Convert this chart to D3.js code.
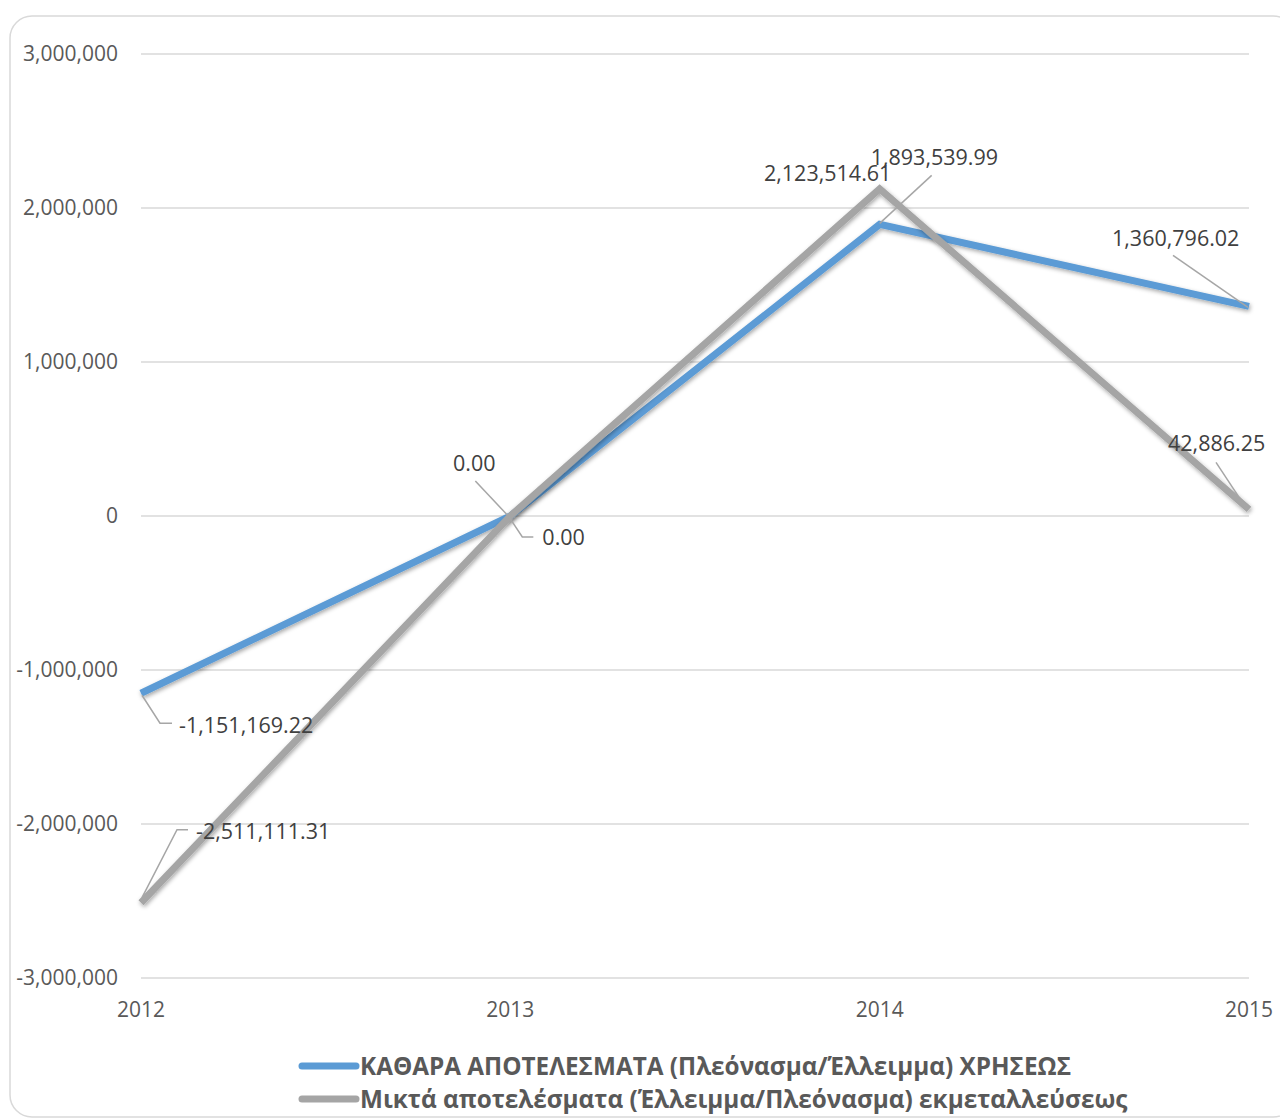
<!DOCTYPE html>
<html>
<head>
<meta charset="utf-8">
<script src="https://cdn.jsdelivr.net/npm/d3@7"></script>
<style>
  body { margin: 0; background: #fff; }
  text { font-family: "Open Sans", "Noto Sans", sans-serif; }
</style>
</head>
<body>
<svg id="chart" width="1280" height="1120"></svg>
<script>
// data
let years = ['2012', '2013', '2014', '2015']
let netResults = [-1151169.22, 0, 1893539.99, 1360796.02]
let grossResults = [-2511111.31, 0, 2123514.61, 42886.25]
let yTicks = [-3000000, -2000000, -1000000, 0, 1000000, 2000000, 3000000]
let seriesNames = [
  'ΚΑΘΑΡΑ ΑΠΟΤΕΛΕΣΜΑΤΑ (Πλεόνασμα/Έλλειμμα) ΧΡΗΣΕΩΣ',
  'Μικτά αποτελέσματα (Έλλειμμα/Πλεόνασμα) εκμεταλλεύσεως'
]
let seriesColors = ['#5b9bd5', '#a5a5a5']

// where each data label sits relative to its point (text offset + leader line)
let labelLayout = [
  [
    { dx: 38, dy: 32, anchor: 'start', leader: [[1, 2], [19, 30], [31, 30]] },
    { dx: 32, dy: 21, anchor: 'start', leader: [[-2, 0], [12, 21], [23, 21]] },
    { dx: -9, dy: -67, anchor: 'start', leader: [[0, -1], [52, -49]] },
    { dx: -137, dy: -68, anchor: 'start', leader: [[-1, 1], [-76, -51]] }
  ],
  [
    { dx: 55, dy: -71, anchor: 'start', leader: [[1, -5], [36, -73], [47, -73]] },
    { dx: -36, dy: -53, anchor: 'middle', leader: [[-3, -1], [-35, -35]] },
    { dx: -52, dy: -16, anchor: 'middle', leader: null },
    { dx: -81, dy: -66, anchor: 'start', leader: [[-2, 0], [-33, -47]] }
  ]
]

let locale = d3.formatLocale({ decimal: '.', thousands: ',', grouping: [3], currency: ['', ''], minus: '-' })
let fmtAxis = locale.format(',')
let fmtLabel = locale.format(',.2f')

let svg = d3.select('#chart')

let defs = svg.append('defs')
let shadow = defs.append('filter').attr('id', 'shadow')
  .attr('x', '-10%').attr('y', '-10%').attr('width', '120%').attr('height', '120%')
shadow.append('feDropShadow')
  .attr('dx', 1).attr('dy', 2).attr('stdDeviation', 2)
  .attr('flood-color', '#000').attr('flood-opacity', 0.35)

// outer frame
svg.append('rect')
  .attr('x', 10).attr('y', 16)
  .attr('width', 1285).attr('height', 1101)
  .attr('rx', 22).attr('ry', 22)
  .attr('fill', '#fff')
  .attr('stroke', '#d9d9d9').attr('stroke-width', 1.5)

let x = d3.scalePoint().domain(years).range([141, 1249])
let y = d3.scaleLinear().domain([-3000000, 3000000]).range([978, 54])

// gridlines
svg.append('g').selectAll('line')
  .data(yTicks)
  .enter()
  .append('line')
  .attr('x1', 141).attr('x2', 1249)
  .attr('y1', d => y(d)).attr('y2', d => y(d))
  .attr('stroke', '#d9d9d9').attr('stroke-width', 1.5)

// y labels
svg.append('g').selectAll('text')
  .data(yTicks)
  .enter()
  .append('text')
  .attr('x', 118)
  .attr('y', d => y(d))
  .attr('dy', '0.35em')
  .attr('text-anchor', 'end')
  .attr('font-size', 21)
  .attr('fill', '#595959')
  .text(d => fmtAxis(d))

// x labels
svg.append('g').selectAll('text')
  .data(years)
  .enter()
  .append('text')
  .attr('x', d => x(d))
  .attr('y', 1010)
  .attr('dy', '0.35em')
  .attr('text-anchor', 'middle')
  .attr('font-size', 21)
  .attr('fill', '#595959')
  .text(d => d)

let series = [netResults, grossResults].map((vals, si) => ({
  name: seriesNames[si],
  color: seriesColors[si],
  points: vals.map((v, i) => ({ year: years[i], value: v, layout: labelLayout[si][i] }))
}))

let line = d3.line().x(d => x(d.year)).y(d => y(d.value))

svg.append('g').attr('class', 'lines').selectAll('path')
  .data(series)
  .enter()
  .append('path')
  .attr('d', d => line(d.points))
  .attr('fill', 'none')
  .attr('stroke', d => d.color)
  .attr('stroke-width', 7)
  .attr('stroke-linejoin', 'miter')
  .attr('filter', 'url(#shadow)')

// leader lines + data labels
let labelGroups = svg.append('g').attr('class', 'labels').selectAll('g')
  .data(series)
  .enter()
  .append('g')

let allPts = labelGroups.selectAll('g')
  .data(d => d.points)
  .enter()
  .append('g')
  .attr('transform', d => `translate(${x(d.year)}, ${y(d.value)})`)

allPts.filter(d => d.layout.leader)
  .append('polyline')
  .attr('points', d => d.layout.leader.map(p => p.join(',')).join(' '))
  .attr('fill', 'none')
  .attr('stroke', '#a6a6a6')
  .attr('stroke-width', 1.5)

allPts.append('text')
  .attr('x', d => d.layout.dx)
  .attr('y', d => d.layout.dy)
  .attr('dy', '0.35em')
  .attr('text-anchor', d => d.layout.anchor)
  .attr('font-size', 21.5)
  .attr('fill', '#404040')
  .text(d => fmtLabel(d.value))

// legend
let legend = svg.append('g').selectAll('g')
  .data(series)
  .enter()
  .append('g')
  .attr('transform', (d, i) => `translate(302, ${1066 + i * 33})`)

legend.append('line')
  .attr('x1', 0).attr('x2', 54)
  .attr('stroke', d => d.color)
  .attr('stroke-width', 7)
  .attr('stroke-linecap', 'round')

legend.append('text')
  .attr('x', 58)
  .attr('dy', '0.35em')
  .attr('font-size', 24.3)
  .attr('font-weight', 700)
  .attr('fill', '#595959')
  .text(d => d.name)
</script>
</body>
</html>
